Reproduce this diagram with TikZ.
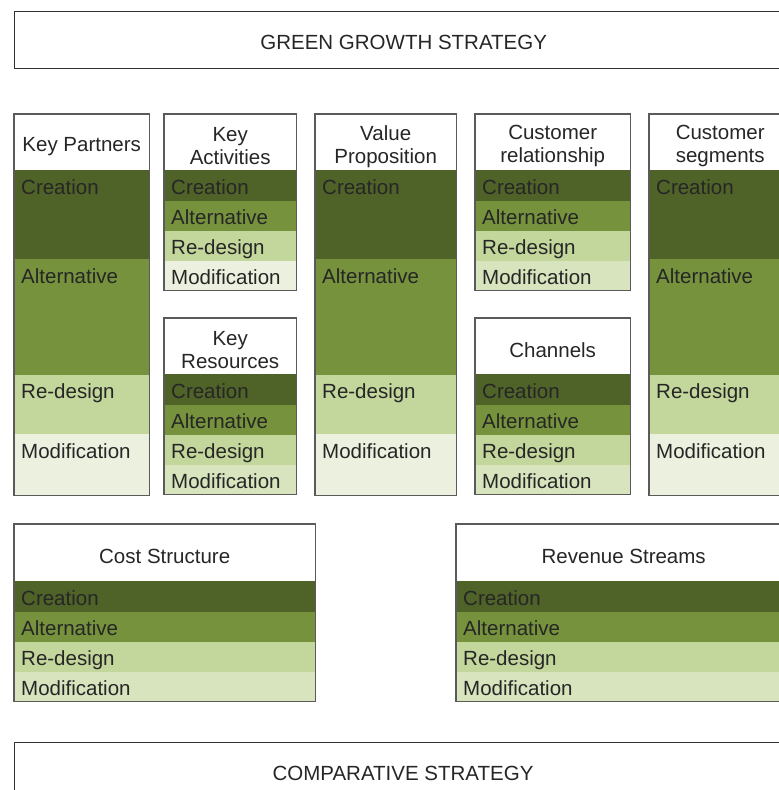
\documentclass[tikz,border=0pt]{standalone}
\usepackage{fontspec}
\setmainfont{Liberation Sans}
\usepackage{tikz}
\usetikzlibrary{positioning}
\definecolor{crea}{HTML}{4F6228}
\definecolor{alt}{HTML}{76923C}
\definecolor{redes}{HTML}{C3D69B}
\definecolor{modlt}{HTML}{EBF1DE}
\definecolor{moddk}{HTML}{D7E4BD}
\definecolor{frame}{HTML}{5A5A5A}
\definecolor{txt}{HTML}{262626}
\tikzset{
  blk/.style={draw=frame,line width=1.3pt},
  title/.style={anchor=north west,draw=black!80,line width=1.4pt,inner sep=0pt,
    font=\fontsize{20.5}{23}\selectfont,text=txt},
  head/.style={anchor=north west,inner sep=0pt},
  headtxt/.style={inner sep=0pt,align=center,font=\fontsize{20.5}{23}\selectfont,text=txt},
  band/.style={anchor=north west,inner sep=0pt,line width=0.6pt},
  lbl/.style={anchor=base west,inner sep=0pt,font=\fontsize{20.5}{23}\selectfont,text=txt}
}
\begin{document}
\begin{tikzpicture}[x=1pt,y=-1pt]
\useasboundingbox (0,0) rectangle (779,790);
\clip (0,0) rectangle (779,790);
%Strategy boxes
\node[title,minimum width=778pt,minimum height=57pt] (green) at (14,11) {};
\node[headtxt] (green-t) at ([yshift=-2pt]green.center) {GREEN GROWTH STRATEGY};
\node[title,minimum width=778pt,minimum height=60pt] (comp) at (14,742) {};
\node[headtxt] (comp-t) at (403,773) {COMPARATIVE STRATEGY};
%Tall columns
\foreach \n/\x/\w/\hd in {kp/14/135/{Key Partners},vp/315/141/{Value\\Proposition},cs/649/142/{Customer\\segments}}{
  \node[head,minimum width=\w pt,minimum height=56pt] (\n-h) at (\x,114) {};
  \node[headtxt] (\n-ht) at ([yshift=-4pt]\n-h.center) {\hd};
  \foreach \i/\p/\h/\c/\t in {1/h/88/crea/Creation,2/1/115/alt/Alternative,3/2/59/redes/Re-design,4/3/61/modlt/Modification}{
    \node[band,fill=\c,draw=\c,minimum width=\w pt,minimum height=\h pt] (\n-\i) at (\n-\p.south west) {};
    \node[lbl] (\n-\i-t) at ([xshift=7pt,yshift=-24pt]\n-\i.north west) {\t};
  }
  \draw[blk] (\n-h.north west) rectangle (\n-4.south east);
}
%Small blocks
\foreach \n/\x/\y/\w/\hd/\m in {ka/164/114/132/{Key\\Activities}/modlt,kr/164/318/132/{Key\\Resources}/moddk,cr/475/114/155/{Customer\\relationship}/moddk,ch/475/318/155/Channels/moddk}{
  \node[head,minimum width=\w pt,minimum height=56pt] (\n-h) at (\x,\y) {};
  \node[headtxt] (\n-ht) at ([yshift=-4pt]\n-h.center) {\hd};
  \foreach \i/\p/\c/\t in {1/h/crea/Creation,2/1/alt/Alternative,3/2/redes/Re-design,4/3/\m/Modification}{
    \node[band,fill=\c,draw=\c,minimum width=\w pt,minimum height=29.5pt] (\n-\i) at (\n-\p.south west) {};
    \node[lbl] (\n-\i-t) at ([xshift=7pt,yshift=-24pt]\n-\i.north west) {\t};
  }
  \draw[blk] (\n-h.north west) rectangle (\n-4.south east);
}
%Cost and revenue
\foreach \n/\x/\w/\hd in {cost/14/301/{Cost Structure},rev/456/335/{Revenue Streams}}{
  \node[head,minimum width=\w pt,minimum height=57pt] (\n-h) at (\x,524) {};
  \node[headtxt] (\n-ht) at ([yshift=-4pt]\n-h.center) {\hd};
  \foreach \i/\p/\c/\t in {1/h/crea/Creation,2/1/alt/Alternative,3/2/redes/Re-design,4/3/moddk/Modification}{
    \node[band,fill=\c,draw=\c,minimum width=\w pt,minimum height=29.5pt] (\n-\i) at (\n-\p.south west) {};
    \node[lbl] (\n-\i-t) at ([xshift=7pt,yshift=-24pt]\n-\i.north west) {\t};
  }
  \draw[blk] (\n-h.north west) rectangle (\n-4.south east);
}
\end{tikzpicture}
\end{document}
